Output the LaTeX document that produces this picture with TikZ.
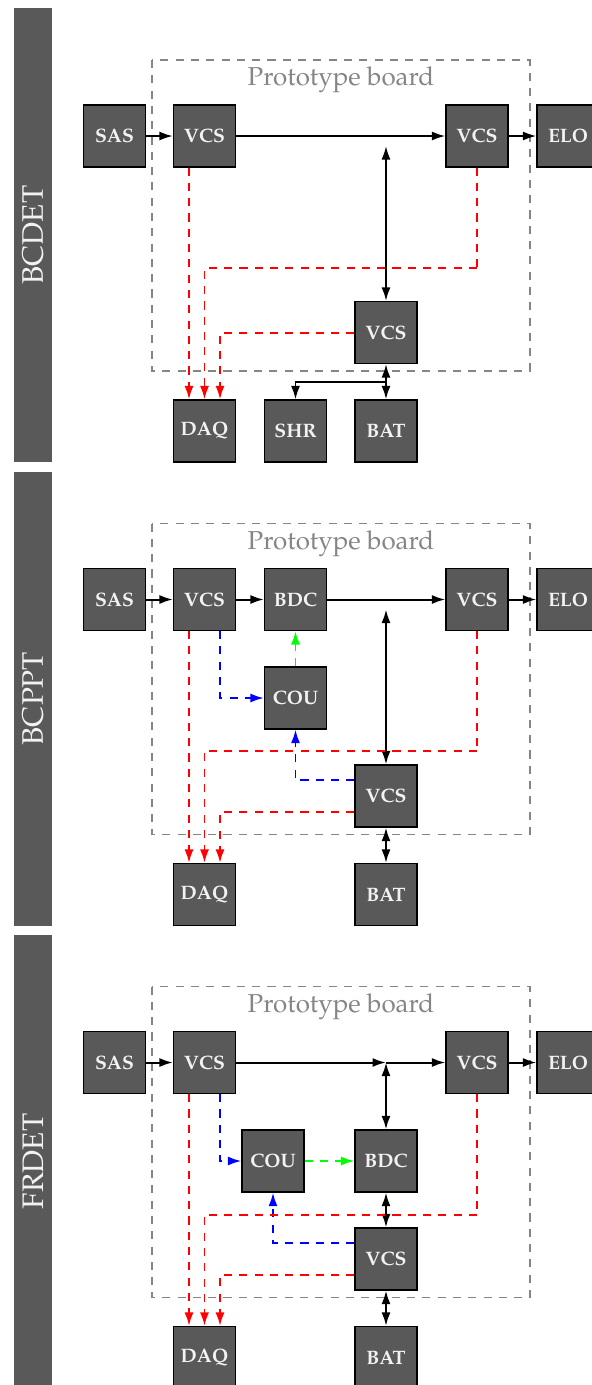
\documentclass[tikz,border=0pt]{standalone}
\usepackage[T1]{fontenc}
\usepackage{mathpazo}
\usepackage{tikz}
\usetikzlibrary{arrows.meta}

\definecolor{blkgray}{HTML}{595959}
\definecolor{blktext}{HTML}{F2F2F2}
\definecolor{boardgray}{HTML}{858585}

\tikzset{
  blk/.style={draw=black, fill=blkgray, text=blktext, font=\fontsize{10.8}{12}\selectfont\bfseries,
    minimum size=34.4pt, inner sep=0pt, line width=0.7pt},
  bar/.style={fill=blkgray},
  barlabel/.style={rotate=90, text=blktext, font=\fontsize{16.5}{18}\selectfont},
  board/.style={draw=boardgray, line width=0.8pt, dash pattern=on 4.5pt off 4pt},
  boardtitle/.style={text=boardgray, font=\Large},
  arr/.style={line width=1.1pt, -{Latex[length=7.5pt,width=5pt]}},
  darr/.style={line width=1.1pt, {Latex[length=7.5pt,width=5pt]}-{Latex[length=7.5pt,width=5pt]}},
  sig/.style={line width=1.1pt, dash pattern=on 4.5pt off 4pt, -{Latex[length=7.5pt,width=5pt]}, draw=#1, color=#1},
  wire/.style={line width=1.1pt, dash pattern=on 4.5pt off 4pt, draw=#1},
}

\begin{document}
\begin{tikzpicture}[x=0.5556pt, y=0.5556pt, yscale=-1]
\clip (0,0) rectangle (592,1385);

\begin{scope}
\fill[bar] (14,8) rectangle (52,462);
\node[barlabel] (bdlabel) at (33,235) {BCDET};
\draw[board] (152,60) rectangle (530,371);
\node[boardtitle] (bdtitle) at (341,80) {Prototype board};
\node[blk] (bdsas) at (114.5,136) {SAS};
\node[blk] (bdvcsa) at (204.5,136) {VCS};
\node[blk] (bdvcsb) at (477,136) {VCS};
\node[blk] (bdelo) at (568,136) {ELO};
\node[blk] (bdvcsc) at (386,332.5) {VCS};
\node[blk] (bddaq) at (204.5,431) {DAQ};
\node[blk] (bdshr) at (295.5,431) {SHR};
\node[blk] (bdbat) at (386,431) {BAT};
\coordinate (bdtap) at (386,146);
\coordinate (bdfork) at (386,382);
\draw[arr] (bdsas) -- (bdvcsa);
\draw[arr] (bdvcsa) -- (bdvcsb);
\draw[arr] (bdvcsb) -- (bdelo);
\draw[darr] (bdtap) -- (bdvcsc);
\draw[darr] (bdvcsc) -- (bdbat);
\draw[arr] (bdfork) -| (bdshr);
\draw[sig=red] (189,0 |- bdvcsa.south) -- (189,0 |- bddaq.north);
\draw[wire=red] (bdvcsb.south) -- (bdvcsb.south |- 0,268);
\draw[sig=red] (bdvcsb.south |- 0,268) -| (bddaq.north);
\draw[sig=red] (bdvcsc.west) -| (220,0 |- bddaq.north);
\end{scope}

\begin{scope}[shift={(0,463.5)}]
\fill[bar] (14,8) rectangle (52,462);
\node[barlabel] (bplabel) at (33,235) {BCPPT};
\draw[board] (152,60) rectangle (530,371);
\node[boardtitle] (bptitle) at (341,80) {Prototype board};
\node[blk] (bpsas) at (114.5,136) {SAS};
\node[blk] (bpvcsa) at (204.5,136) {VCS};
\node[blk] (bpbdc) at (295.5,136) {BDC};
\node[blk] (bpvcsb) at (477,136) {VCS};
\node[blk] (bpelo) at (568,136) {ELO};
\node[blk] (bpcou) at (295.5,234.5) {COU};
\node[blk] (bpvcsc) at (386,332.5) {VCS};
\node[blk] (bpdaq) at (204.5,431) {DAQ};
\node[blk] (bpbat) at (386,431) {BAT};
\coordinate (bptap) at (386,146);
\draw[arr] (bpsas) -- (bpvcsa);
\draw[arr] (bpvcsa) -- (bpbdc);
\draw[arr] (bpbdc) -- (bpvcsb);
\draw[arr] (bpvcsb) -- (bpelo);
\draw[darr] (bptap) -- (bpvcsc);
\draw[darr] (bpvcsc) -- (bpbat);
\draw[sig=green] (bpcou) -- (bpbdc);
\draw[sig=blue] (220,0 |- bpvcsa.south) |- (bpcou.west);
\draw[sig=blue] (bpvcsc.west |- 0,316.5) -| (bpcou.south);
\draw[sig=red] (189,0 |- bpvcsa.south) -- (189,0 |- bpdaq.north);
\draw[wire=red] (bpvcsb.south) -- (bpvcsb.south |- 0,287);
\draw[sig=red] (bpvcsb.south |- 0,287) -| (bpdaq.north);
\draw[sig=red] (bpvcsc.west |- 0,348.5) -| (220,0 |- bpdaq.north);
\end{scope}

\begin{scope}[shift={(0,926.5)}]
\fill[bar] (14,8) rectangle (52,462);
\node[barlabel] (frlabel) at (33,235) {FRDET};
\draw[board] (152,60) rectangle (530,371);
\node[boardtitle] (frtitle) at (341,80) {Prototype board};
\node[blk] (frsas) at (114.5,136) {SAS};
\node[blk] (frvcsa) at (204.5,136) {VCS};
\node[blk] (frvcsb) at (477,136) {VCS};
\node[blk] (frelo) at (568,136) {ELO};
\node[blk] (frcou) at (273,234.5) {COU};
\node[blk] (frbdc) at (386,234.5) {BDC};
\node[blk] (frvcsc) at (386,332.5) {VCS};
\node[blk] (frdaq) at (204.5,431) {DAQ};
\node[blk] (frbat) at (386,431) {BAT};
\coordinate (frjunc) at (386,136);
\draw[arr] (frsas) -- (frvcsa);
\draw[arr] (frvcsa) -- (frjunc);
\draw[arr] (frjunc) -- (frvcsb);
\draw[arr] (frvcsb) -- (frelo);
\draw[darr] (frjunc) -- (frbdc);
\draw[darr] (frbdc) -- (frvcsc);
\draw[darr] (frvcsc) -- (frbat);
\draw[sig=green] (frcou) -- (frbdc);
\draw[sig=blue] (220,0 |- frvcsa.south) |- (frcou.west);
\draw[sig=blue] (frvcsc.west |- 0,316.5) -| (frcou.south);
\draw[sig=red] (189,0 |- frvcsa.south) -- (189,0 |- frdaq.north);
\draw[wire=red] (frvcsb.south) -- (frvcsb.south |- 0,288);
\draw[sig=red] (frvcsb.south |- 0,288) -| (frdaq.north);
\draw[sig=red] (frvcsc.west |- 0,348.5) -| (220,0 |- frdaq.north);
\end{scope}
\end{tikzpicture}
\end{document}
